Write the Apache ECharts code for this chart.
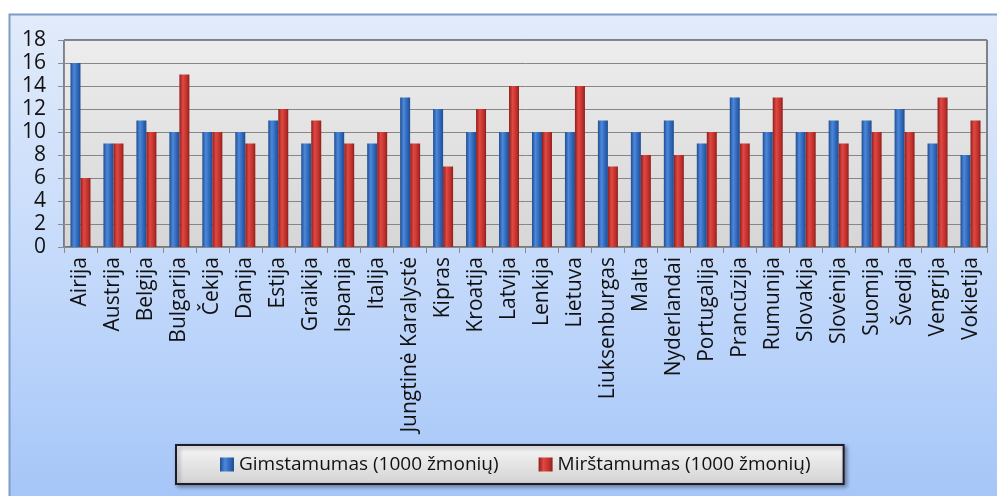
<!DOCTYPE html>
<html>
<head>
<meta charset="utf-8">
<script src="https://cdn.jsdelivr.net/npm/echarts@6/dist/echarts.min.js"></script>
<style>
  html, body { margin: 0; padding: 0; background: #ffffff; }
  #chart { width: 997px; height: 496px; }
</style>
</head>
<body>
<div id="chart"></div>
<script>
// Countries (Lithuanian names)
const categories = [
  'Airija', 'Austrija', 'Belgija', 'Bulgarija', 'Čekija', 'Danija', 'Estija',
  'Graikija', 'Ispanija', 'Italija', 'Jungtinė Karalystė', 'Kipras', 'Kroatija',
  'Latvija', 'Lenkija', 'Lietuva', 'Liuksenburgas', 'Malta', 'Nyderlandai',
  'Portugalija', 'Prancūzija', 'Rumunija', 'Slovakija', 'Slovėnija', 'Suomija',
  'Švedija', 'Vengrija', 'Vokietija'
];

// Births per 1000 people
const gimstamumas = [16, 9, 11, 10, 10, 10, 11, 9, 10, 9, 13, 12, 10, 10, 10, 10, 11, 10, 11, 9, 13, 10, 10, 11, 11, 12, 9, 8];

// Deaths per 1000 people
const mirstamumas = [6, 9, 10, 15, 10, 9, 12, 11, 9, 10, 9, 7, 12, 14, 10, 14, 7, 8, 8, 10, 9, 13, 10, 9, 10, 10, 13, 11];

const seriesNames = ['Gimstamumas (1000 žmonių)', 'Mirštamumas (1000 žmonių)'];
const yTicks = { min: 0, max: 18, interval: 2 };

const FONT = '"Open Sans", "DejaVu Sans", sans-serif';

function barGradient(edge, light, dark) {
  return new echarts.graphic.LinearGradient(0, 0, 1, 0, [
    { offset: 0, color: edge },
    { offset: 0.35, color: light },
    { offset: 0.75, color: dark },
    { offset: 1, color: edge }
  ]);
}

const chart = echarts.init(document.getElementById('chart'), null, { renderer: 'canvas' });

chart.setOption({
  backgroundColor: '#ffffff',
  animation: false,
  graphic: [
    {
      type: 'rect',
      z: -10,
      silent: true,
      shape: { x: 9.5, y: 14.5, width: 1100, height: 600 },
      style: {
        fill: new echarts.graphic.LinearGradient(0, 0, 0, 1, [
          { offset: 0, color: '#e2ebfa' },
          { offset: 0.4, color: '#c6dbfb' },
          { offset: 0.8, color: '#a6c6f8' },
          { offset: 1, color: '#a6c6f8' }
        ]),
        stroke: '#7d9cc8',
        lineWidth: 2
      }
    }
  ],
  grid: {
    left: 64,
    right: 10,
    top: 40,
    bottom: 249,
    show: true,
    borderColor: '#1a1a1a',
    borderWidth: 1,
    backgroundColor: new echarts.graphic.LinearGradient(0, 0, 0, 1, [
      { offset: 0, color: '#ededed' },
      { offset: 1, color: '#d6d6d6' }
    ])
  },
  legend: {
    data: seriesNames,
    left: 176,
    top: 445,
    padding: [10, 33, 10, 44],
    itemGap: 40,
    itemWidth: 14,
    itemHeight: 14,
    icon: 'rect',
    backgroundColor: new echarts.graphic.LinearGradient(0, 0, 0, 1, [
      { offset: 0, color: '#f7f7f7' },
      { offset: 1, color: '#d2d2d2' }
    ]),
    borderColor: '#1c1c2c',
    borderWidth: 2,
    shadowColor: 'rgba(0,0,0,0.35)',
    shadowBlur: 4,
    shadowOffsetX: 2,
    shadowOffsetY: 2,
    textStyle: { fontFamily: FONT, fontSize: 19, color: '#111111' }
  },
  xAxis: {
    type: 'category',
    data: categories,
    boundaryGap: true,
    axisLine: { lineStyle: { color: '#8a8a8a', width: 1 } },
    axisTick: { show: true, length: 6, lineStyle: { color: '#8a8a8a' } },
    axisLabel: {
      rotate: 90,
      interval: 0,
      margin: 10,
      fontFamily: FONT,
      fontSize: 21,
      color: '#111111'
    },
    splitLine: { show: false }
  },
  yAxis: {
    type: 'value',
    min: yTicks.min,
    max: yTicks.max,
    interval: yTicks.interval,
    axisLine: { show: true, lineStyle: { color: '#8a8a8a', width: 1 } },
    axisTick: { show: true, length: 6, lineStyle: { color: '#8a8a8a' } },
    axisLabel: {
      margin: 18,
      fontFamily: FONT,
      fontSize: 21,
      color: '#111111'
    },
    splitLine: { show: true, lineStyle: { color: '#868686', width: 1 } }
  },
  series: [
    {
      name: seriesNames[0],
      type: 'bar',
      data: gimstamumas,
      barWidth: 10,
      barGap: '0%',
      itemStyle: {
        color: barGradient('#1f4d92', '#4d88da', '#2c63b4')
      }
    },
    {
      name: seriesNames[1],
      type: 'bar',
      data: mirstamumas,
      barWidth: 10,
      barGap: '0%',
      itemStyle: {
        color: barGradient('#8e1f1c', '#e04843', '#c0302b')
      }
    }
  ]
});
</script>
</body>
</html>
